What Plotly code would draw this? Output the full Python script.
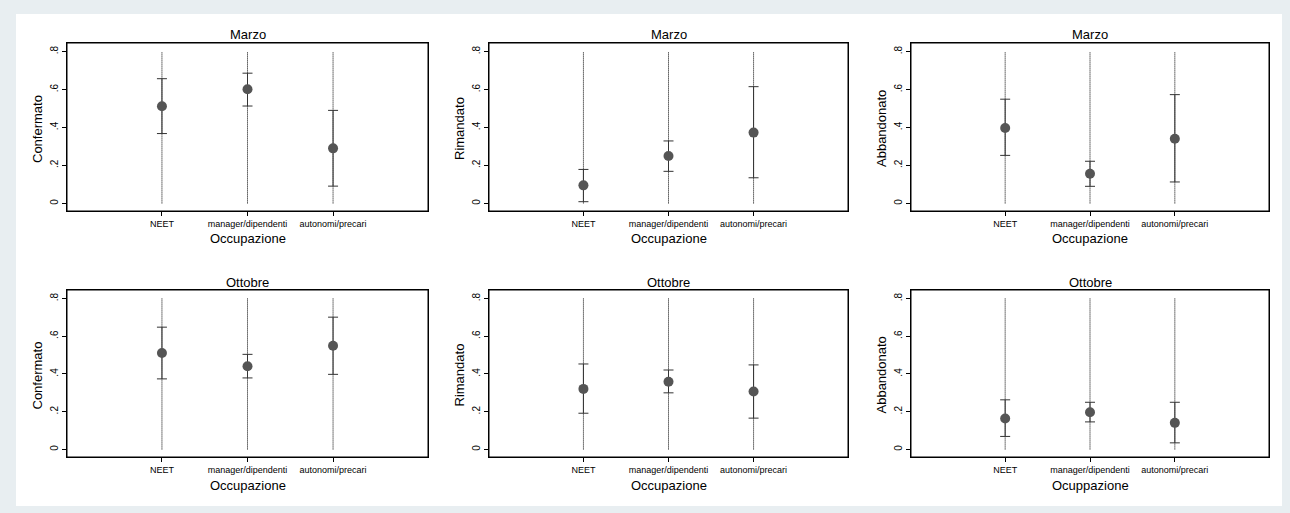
import plotly.graph_objects as go

# ---------------- data ----------------
categories = ["NEET", "manager/dipendenti", "autonomi/precari"]
positions = [1, 2, 3]
spike_low = [0, 0, 0]
spike_high = [0.8, 0.8, 0.8]

marzo_confermato = [0.512, 0.601, 0.290]
marzo_confermato_lo = [0.368, 0.513, 0.091]
marzo_confermato_hi = [0.657, 0.686, 0.490]

marzo_rimandato = [0.095, 0.250, 0.373]
marzo_rimandato_lo = [0.009, 0.169, 0.135]
marzo_rimandato_hi = [0.179, 0.329, 0.615]

marzo_abbandonato = [0.397, 0.156, 0.341]
marzo_abbandonato_lo = [0.253, 0.090, 0.113]
marzo_abbandonato_hi = [0.549, 0.222, 0.573]

ottobre_confermato = [0.511, 0.441, 0.550]
ottobre_confermato_lo = [0.374, 0.379, 0.398]
ottobre_confermato_hi = [0.648, 0.504, 0.701]

ottobre_rimandato = [0.321, 0.359, 0.307]
ottobre_rimandato_lo = [0.192, 0.300, 0.166]
ottobre_rimandato_hi = [0.453, 0.421, 0.448]

ottobre_abbandonato = [0.164, 0.197, 0.141]
ottobre_abbandonato_lo = [0.069, 0.146, 0.035]
ottobre_abbandonato_hi = [0.263, 0.250, 0.250]

ytick_vals = [0, 0.2, 0.4, 0.6, 0.8]
ytick_text = ["0", ".2", ".4", ".6", ".8"]

panels = [
    ("Marzo", "Confermato", "Occupazione", marzo_confermato, marzo_confermato_lo, marzo_confermato_hi),
    ("Marzo", "Rimandato", "Occupazione", marzo_rimandato, marzo_rimandato_lo, marzo_rimandato_hi),
    ("Marzo", "Abbandonato", "Occupazione", marzo_abbandonato, marzo_abbandonato_lo, marzo_abbandonato_hi),
    ("Ottobre", "Confermato", "Occupazione", ottobre_confermato, ottobre_confermato_lo, ottobre_confermato_hi),
    ("Ottobre", "Rimandato", "Occupazione", ottobre_rimandato, ottobre_rimandato_lo, ottobre_rimandato_hi),
    ("Ottobre", "Abbandonato", "Ocuppazione", ottobre_abbandonato, ottobre_abbandonato_lo, ottobre_abbandonato_hi),
]

# ---------------- layout geometry ----------------
W, H = 1290, 513
col_px = [(67, 428), (489, 848), (911, 1269)]
row_px = [(43, 211), (290, 457)]

FONT = "Liberation Sans, Arial, sans-serif"
fig = go.Figure()
annotations = []
shapes = [dict(type="rect", xref="paper", yref="paper",
               x0=16 / W, x1=1282 / W, y0=1 - 506 / H, y1=1 - 14 / H,
               fillcolor="#ffffff", line=dict(width=0), layer="below")]

for i, (title, ylab, xlab, mean, lo, hi) in enumerate(panels):
    r, c = divmod(i, 3)
    n = i + 1
    xa = "x" if n == 1 else f"x{n}"
    ya = "y" if n == 1 else f"y{n}"
    x0p, x1p = col_px[c]
    y0p, y1p = row_px[r]

    # dotted spikes
    for k in range(3):
        fig.add_trace(go.Scatter(
            x=[positions[k], positions[k]], y=[spike_low[k], spike_high[k]],
            mode="lines", line=dict(color="#000000", width=1, dash="1px,1px"),
            hoverinfo="skip", showlegend=False, xaxis=xa, yaxis=ya))

    fig.add_trace(go.Scatter(
        x=positions, y=mean, mode="markers",
        marker=dict(size=10, color="#555555"),
        error_y=dict(type="data", symmetric=False,
                     array=[h - m for h, m in zip(hi, mean)],
                     arrayminus=[m - l for m, l in zip(mean, lo)],
                     color="#333333", thickness=1, width=5),
        showlegend=False, xaxis=xa, yaxis=ya))

    xkey = "xaxis" if n == 1 else f"xaxis{n}"
    ykey = "yaxis" if n == 1 else f"yaxis{n}"
    fig.layout[xkey] = dict(
        domain=[x0p / W, x1p / W], anchor=ya, range=[-0.11, 4.11],
        tickvals=positions, ticktext=categories, ticks="outside", ticklen=4,
        tickcolor="#000", showline=True, linecolor="#000", linewidth=1, mirror=True,
        showgrid=False, zeroline=False, fixedrange=True,
        tickfont=dict(family=FONT, size=9, color="#000"))
    fig.layout[ykey] = dict(
        domain=[1 - y1p / H, 1 - y0p / H], anchor=xa, range=[-0.04, 0.845],
        tickvals=ytick_vals, ticktext=ytick_text, ticks="outside", ticklen=4,
        tickcolor="#000", tickangle=-90, showline=True, linecolor="#000", linewidth=1,
        mirror=True, showgrid=False, zeroline=False, fixedrange=True,
        tickfont=dict(family=FONT, size=10, color="#000"))

    # frame around the plot area
    shapes.append(dict(type="rect", xref=f"{xa} domain", yref=f"{ya} domain",
                       x0=0, x1=1, y0=0, y1=1, line=dict(color="#000", width=1),
                       fillcolor="rgba(0,0,0,0)", layer="above"))

    cx = (x0p + x1p) / 2
    annotations.append(dict(text=title, x=cx / W, y=1 - (y0p - 8) / H, xref="paper", yref="paper",
                            xanchor="center", yanchor="middle", showarrow=False,
                            font=dict(family=FONT, size=13, color="#000")))
    annotations.append(dict(text=xlab, x=cx / W, y=1 - (y1p + 28) / H, xref="paper", yref="paper",
                            xanchor="center", yanchor="middle", showarrow=False,
                            font=dict(family=FONT, size=13, color="#000")))
    annotations.append(dict(text=ylab, x=(x0p - 30) / W, y=1 - ((y0p + y1p) / 2 + 2) / H,
                            xref="paper", yref="paper", textangle=-90,
                            xanchor="center", yanchor="middle", showarrow=False,
                            font=dict(family=FONT, size=13, color="#000")))

fig.update_layout(
    width=W, height=H, margin=dict(l=0, r=0, t=0, b=0),
    paper_bgcolor="#e8eef1", plot_bgcolor="#ffffff",
    annotations=annotations, shapes=shapes, showlegend=False,
)

fig.write_html("out.html",
               config={"displayModeBar": False},
               post_script="document.body.style.margin='0';document.body.style.padding='0';"
                           "document.body.style.background='#e8eef1';")
